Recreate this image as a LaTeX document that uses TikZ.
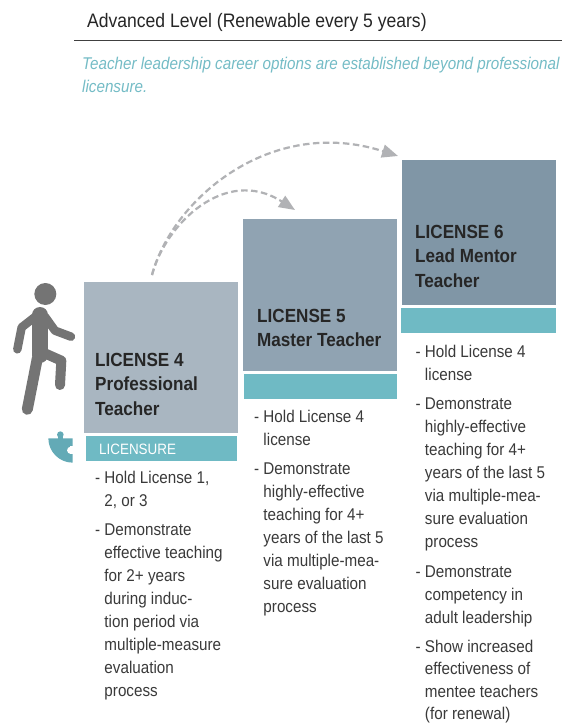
\documentclass[tikz,border=0pt]{standalone}
\usepackage{fontspec}
\setmainfont{Liberation Sans}
\newfontfamily\narrowf[FakeStretch=0.895]{Liberation Sans}
\newfontfamily\headf[FakeStretch=0.9]{Liberation Sans}
\usetikzlibrary{arrows.meta}
\definecolor{teal1}{HTML}{6FBAC4}
\definecolor{puz}{HTML}{63AAB6}
\definecolor{subt}{HTML}{74BCC6}
\definecolor{bodyt}{HTML}{3A3A3A}
\definecolor{headt}{HTML}{262626}
\definecolor{arrowc}{HTML}{B1B2B5}
\definecolor{fig}{HTML}{747474}
\definecolor{bfour}{HTML}{A9B6C1}
\definecolor{bfive}{HTML}{90A3B2}
\definecolor{bsix}{HTML}{8096A6}
\tikzset{x=1pt,y=-1pt,
 head/.style={anchor=north west,inner sep=0,font=\fontsize{19}{24.5}\headf\bfseries\selectfont,text=headt,align=left},
 body/.style={anchor=north west,inner sep=0,font=\fontsize{17}{23}\narrowf\selectfont,text=bodyt,align=left},
 dashc/.style={draw=arrowc,line width=2.2pt,dash pattern=on 6.5pt off 3.5pt,-{Triangle[length=16pt,width=13pt,fill=arrowc]}}}
\begin{document}
\begin{tikzpicture}
\useasboundingbox (0,0) rectangle (562,723);
\fill[white] (0,0) rectangle (562,723);
\node[anchor=west,inner sep=0,font=\fontsize{19.5}{24}\headf\selectfont,text=black!85] (title) at (87,22) {Advanced Level (Renewable every 5 years)};
\coordinate (ruleL) at (74,40); \coordinate (ruleR) at (562,40);
\draw[black!75,line width=.7pt] (ruleL)--(ruleR);
\node[anchor=north west,inner sep=0,align=left,font=\fontsize{17}{23}\narrowf\itshape\selectfont,text=subt] (sub) at (82,57) {Teacher leadership career options are established beyond professional\\licensure.};
\fill[bfour] (84,282) rectangle (238,433);
\fill[bfive] (243,219) rectangle (397,371);
\fill[bsix] (402,160) rectangle (556,305);
\fill[teal1] (86,436) rectangle (237,461);
\fill[teal1] (244,374) rectangle (397,399);
\fill[teal1] (401,308) rectangle (556,333);
\node[head] (h4) at (95,353) {LICENSE 4\\Professional\\Teacher};
\node[head] (h5) at (257,309) {LICENSE 5\\Master Teacher};
\node[head] (h6) at (415,225) {LICENSE 6\\Lead Mentor\\Teacher};
\node[anchor=west,inner sep=0,text=white,font=\fontsize{15}{18}\narrowf\selectfont] (lic) at (99,449) {LICENSURE};
\node[body] (a1) at (95,471) {- Hold License 1,\\\phantom{- }2, or 3};
\node[body] (a2) at (95,523.5) {- Demonstrate\\\phantom{- }effective teaching\\\phantom{- }for 2+ years\\\phantom{- }during induc-\\\phantom{- }tion period via\\\phantom{- }multiple-measure\\\phantom{- }evaluation\\\phantom{- }process};
\node[body] (b1) at (254,410) {- Hold License 4\\\phantom{- }license};
\node[body] (b2) at (254,462.5) {- Demonstrate\\\phantom{- }highly-effective\\\phantom{- }teaching for 4+\\\phantom{- }years of the last 5\\\phantom{- }via multiple-mea-\\\phantom{- }sure evaluation\\\phantom{- }process};
\node[body] (c1) at (415.5,345) {- Hold License 4\\\phantom{- }license};
\node[body] (c2) at (415.5,398) {- Demonstrate\\\phantom{- }highly-effective\\\phantom{- }teaching for 4+\\\phantom{- }years of the last 5\\\phantom{- }via multiple-mea-\\\phantom{- }sure evaluation\\\phantom{- }process};
\node[body] (c3) at (415.5,566) {- Demonstrate\\\phantom{- }competency in\\\phantom{- }adult leadership};
\node[body,font=\fontsize{17}{22.4}\narrowf\selectfont] (c4) at (415.5,640) {- Show increased\\\phantom{- }effectiveness of\\\phantom{- }mentee teachers\\\phantom{- }(for renewal)};
\coordinate (s) at (152,275); \coordinate (e1) at (295,210); \coordinate (e2) at (398,156);
\draw[dashc] (s) .. controls (165,225) and (225,165) .. (e1);
\draw[dashc] (s) .. controls (172,200) and (270,115) .. (e2);
% walker (traced in 3x zoom coordinates)
\begin{scope}[shift={(0,270)},x=.3333pt,y=-.3333pt,line cap=round,line join=round,draw=fig]
\fill[fig] (136,72) circle (11pt);
\draw[line width=8.5pt] (115,133)--(65,172)--(52,238);
\draw[line width=8.5pt] (135,140)--(165,182)--(213,200);
\draw[line width=16pt] (120,135)--(120,255);
\draw[line width=10pt] (130,248)--(184,272)--(180,345);
\draw[line width=11pt] (112,265)--(82,418);
% puzzle piece
\fill[puz] (145,505) -- (218,505) -- (218,578) .. controls (178,578) and (145,545) .. (145,505) -- cycle;
\fill[puz] (181,494) circle (3.3pt);
\fill[puz] (174,494) rectangle (188,508);
\fill[white] (212,541) circle (3.6pt);
\fill[white] (211,529) rectangle (222,553);
\end{scope}
\end{tikzpicture}
\end{document}
